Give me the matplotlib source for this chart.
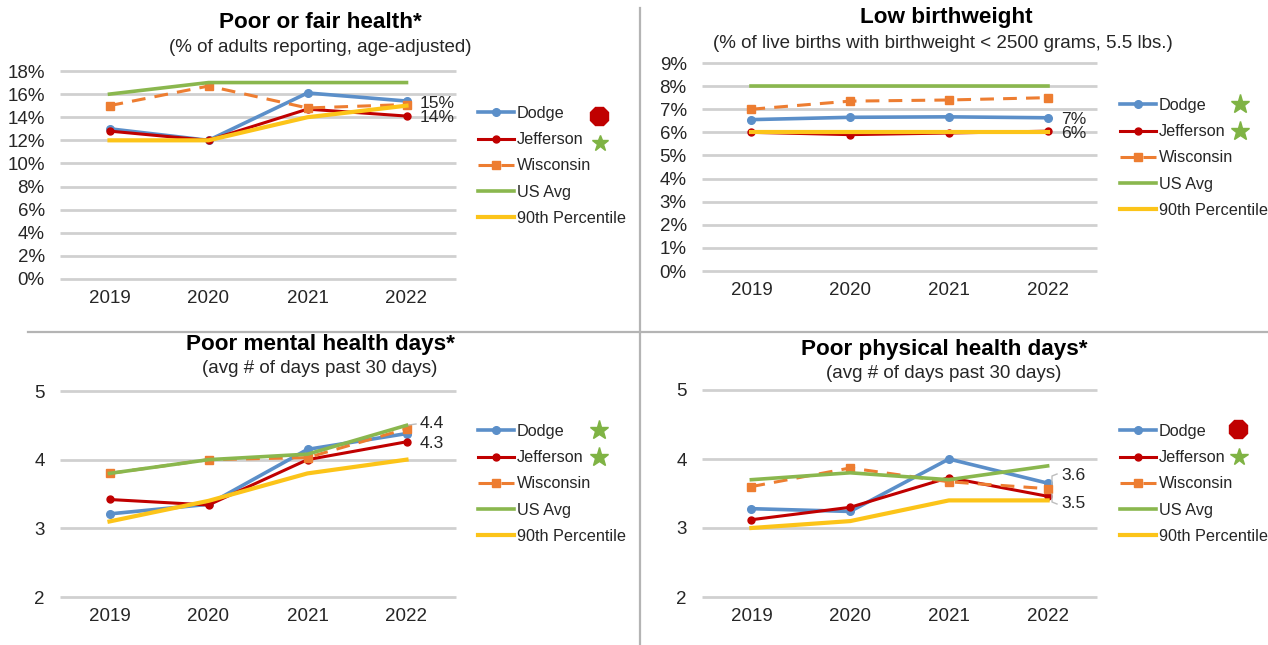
"""Four small line charts of county health measures, 2019-2022."""
import matplotlib
matplotlib.use("Agg")
import matplotlib.pyplot as plt
from matplotlib.ticker import FuncFormatter

WIDTH, HEIGHT = 1268, 645

years = ["2019", "2020", "2021", "2022"]

# Poor or fair health (%)
fair_dodge = [13.0, 12.0, 16.1, 15.4]
fair_jefferson = [12.8, 12.0, 14.7, 14.1]
fair_wisconsin = [15.0, 16.7, 14.8, 15.1]
fair_us = [16, 17, 17, 17]
fair_p90 = [12, 12, 14, 15]

# Low birthweight (%)
birth_dodge = [6.55, 6.65, 6.67, 6.63]
birth_jefferson = [6.0, 5.9, 5.97, 6.05]
birth_wisconsin = [7.0, 7.35, 7.4, 7.5]
birth_us = [8, 8, 8, 8]
birth_p90 = [6, 6, 6, 6]

# Poor mental health days
mental_dodge = [3.21, 3.35, 4.15, 4.38]
mental_jefferson = [3.42, 3.34, 4.0, 4.26]
mental_wisconsin = [3.8, 4.0, 4.03, 4.45]
mental_us = [3.8, 4.0, 4.08, 4.5]
mental_p90 = [3.1, 3.4, 3.8, 4.0]

# Poor physical health days
physical_dodge = [3.28, 3.24, 4.0, 3.65]
physical_jefferson = [3.12, 3.3, 3.73, 3.46]
physical_wisconsin = [3.6, 3.87, 3.67, 3.57]
physical_us = [3.7, 3.8, 3.7, 3.9]
physical_p90 = [3.0, 3.1, 3.4, 3.4]

plt.rcParams["font.family"] = ["Liberation Sans", "DejaVu Sans"]

GRID = "#d0d0d0"
TEXT = "#262626"
BLUE = "#5b8fc9"
RED = "#c00000"
ORANGE = "#ed7d31"
GREEN = "#8ab74e"
YELLOW = "#fcc419"
STAR = "#7fb344"


def fx(px):
    return px / WIDTH


def fy(py):
    return 1 - py / HEIGHT


def draw_panel(box, ylim, yticks, fmt, series, title, title_xy, sub, sub_xy,
               end_labels, legend_left, legend_top, flags, leaders):
    """box is (left, top, right, bottom) in pixels of the picture."""
    left, top, right, bottom = box
    ax = fig.add_axes([fx(left), fy(bottom), (right - left) / WIDTH, (bottom - top) / HEIGHT])
    x = range(len(years))
    dodge, jefferson, wisconsin, us, p90 = series
    ax.plot(x, dodge, color=BLUE, lw=2.6, marker="o", ms=5.5, label="Dodge", clip_on=False, zorder=3)
    ax.plot(x, jefferson, color=RED, lw=2.2, marker="o", ms=5, label="Jefferson", clip_on=False, zorder=4)
    ax.plot(x, wisconsin, color=ORANGE, lw=2.2, ls=(0, (4.5, 3)), marker="s", ms=6, label="Wisconsin",
            clip_on=False, zorder=5)
    ax.plot(x, us, color=GREEN, lw=2.6, label="US Avg", clip_on=False, zorder=6)
    ax.plot(x, p90, color=YELLOW, lw=3, label="90th Percentile", clip_on=False, zorder=7)

    ax.set_xlim(-0.5, 3.5)
    ax.set_ylim(*ylim)
    ax.set_yticks(yticks)
    ax.yaxis.set_major_formatter(FuncFormatter(fmt))
    ax.set_xticks(list(x))
    ax.set_xticklabels(years)
    ax.grid(axis="y", color=GRID, lw=2, clip_on=False, solid_capstyle="butt")
    ax.set_axisbelow(True)
    ax.tick_params(axis="both", length=0, labelsize=13.5, colors=TEXT)
    ax.tick_params(axis="x", pad=8)
    ax.tick_params(axis="y", pad=11)
    for spine in ax.spines.values():
        spine.set_visible(False)

    fig.text(fx(title_xy[0]), fy(title_xy[1]), title, fontsize=16.2, fontweight="bold", color="black",
             ha="center", va="center")
    fig.text(fx(sub_xy[0]), fy(sub_xy[1]), sub, fontsize=13.5, color=TEXT, ha="center", va="center")

    for label, lx, ly in end_labels:
        fig.text(fx(lx), fy(ly), label, fontsize=12.6, color=TEXT, ha="left", va="center")

    fig.legend(*ax.get_legend_handles_labels(), loc="upper left",
               bbox_to_anchor=(fx(legend_left), fy(legend_top)), frameon=False, fontsize=11.7,
               handlelength=2.2, handletextpad=0.2, labelspacing=0.69, borderpad=0, borderaxespad=0,
               labelcolor=TEXT)

    for kind, sx, sy, size in flags:
        marker, colour = ("8", RED) if kind == "stop" else ("*", STAR)
        fig.add_artist(plt.Line2D([fx(sx)], [fy(sy)], marker=marker, ms=size, color=colour, ls=""))

    for xs, ys in leaders:
        fig.add_artist(plt.Line2D([fx(v) for v in xs], [fy(v) for v in ys], color="#bdbdbd", lw=1))


fig = plt.figure(figsize=(WIDTH / 100, HEIGHT / 100), dpi=100)

pct = lambda v, pos: f"{v:.0f}%"
plain = lambda v, pos: f"{v:.0f}"

draw_panel((60, 71, 456, 279), (0, 18), list(range(0, 19, 2)), pct,
           [fair_dodge, fair_jefferson, fair_wisconsin, fair_us, fair_p90],
           "Poor or fair health*", (320, 23), "(% of adults reporting, age-adjusted)", (320, 47),
           [("15%", 420, 103), ("14%", 420, 118)], 478, 106,
           [("stop", 599, 116, 14), ("star", 600, 143, 12)], [])

draw_panel((702, 63, 1097, 271), (0, 9), list(range(0, 10)), pct,
           [birth_dodge, birth_jefferson, birth_wisconsin, birth_us, birth_p90],
           "Low birthweight", (946, 18), "(% of live births with birthweight < 2500 grams, 5.5 lbs.)", (943, 43),
           [("7%", 1061, 119), ("6%", 1061, 134)], 1120, 98,
           [("star", 1240, 104, 14), ("star", 1240, 131, 14)], [])

draw_panel((60, 391, 456, 597), (2, 5), [2, 3, 4, 5], plain,
           [mental_dodge, mental_jefferson, mental_wisconsin, mental_us, mental_p90],
           "Poor mental health days*", (320, 345), "(avg # of days past 30 days)", (320, 369),
           [("4.4", 420, 424), ("4.3", 420, 443)], 478, 424,
           [("star", 599, 430, 14), ("star", 599, 457, 14)],
           [([409, 416], [425, 424])])

draw_panel((702, 390, 1097, 597), (2, 5), [2, 3, 4, 5], plain,
           [physical_dodge, physical_jefferson, physical_wisconsin, physical_us, physical_p90],
           "Poor physical health days*", (944, 349), "(avg # of days past 30 days)", (944, 374),
           [("3.6", 1061, 476), ("3.5", 1061, 503)], 1120, 424,
           [("stop", 1238, 429, 14), ("star", 1239, 457, 13)],
           [([1057, 1052, 1052], [474, 476, 484]), ([1052, 1052, 1057], [494, 502, 504])])

# panel dividers
fig.add_artist(plt.Line2D([fx(640), fx(640)], [fy(8), fy(645)], color="#b4b4b4", lw=1.6))
fig.add_artist(plt.Line2D([fx(28), fx(1267)], [fy(332), fy(332)], color="#b4b4b4", lw=1.6))

fig.savefig("out.png", dpi=100)
